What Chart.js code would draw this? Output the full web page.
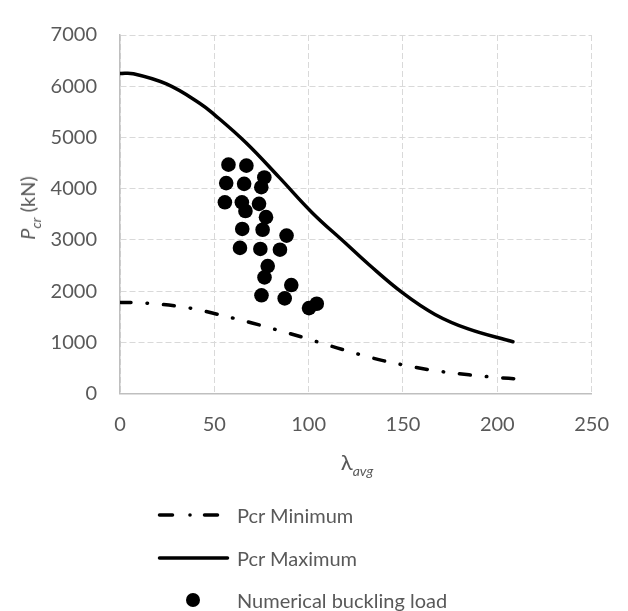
<!DOCTYPE html>
<html>
<head>
<meta charset="utf-8">
<script src="https://cdn.jsdelivr.net/npm/chart.js@4.4.1/dist/chart.umd.min.js"></script>
<style>
  html, body { margin: 0; padding: 0; background: #fff; }
  #wrap { position: relative; width: 628px; height: 611px; overflow: hidden; font-family: Lato, "Open Sans", sans-serif; color: #595959; }
  #c { position: absolute; left: 0; top: 0; }
  .ytitle { position: absolute; left: 27px; top: 208px; transform: translate(-50%, -50%) rotate(-90deg); font-size: 20px; white-space: nowrap; }
  .xtitle { position: absolute; left: 357px; top: 461px; transform: translate(-50%, -50%); font-size: 22px; white-space: nowrap; }
  .sub { font-size: 14px; font-style: italic; position: relative; top: 6px; }
  .leg { position: absolute; left: 0; height: 30px; width: 628px; }
  .leg svg { position: absolute; left: 150px; top: 0; }
  .leg span { position: absolute; left: 237px; top: 50%; transform: translateY(-50%); font-size: 20px; white-space: nowrap; }
</style>
</head>
<body>
<div id="wrap">
  <canvas id="c" width="628" height="611"></canvas>
  <div class="ytitle"><i>P</i><span class="sub">cr</span> (kN)</div>
  <div class="xtitle">λ<span class="sub">avg</span></div>
  <div id="legend"></div>
</div>
<script>
// ---- data ----
const seriesNames = ["Pcr Minimum", "Pcr Maximum", "Numerical buckling load"];

const minX = [0, 10, 20, 30, 40, 50, 60, 70, 80, 90, 100, 110, 120, 130, 140, 150, 160, 170, 180, 190, 200, 212];
const minY = [1780, 1775, 1750, 1710, 1650, 1565, 1475, 1380, 1278, 1175, 1065, 950, 840, 735, 640, 562, 492, 434, 388, 350, 315, 285];

const maxX = [0, 7, 24.6, 42.2, 50, 66.8, 84.4, 102, 119.6, 131.9, 150.2, 167, 184.6, 208.3];
const maxY = [6250, 6245, 6045, 5670, 5447, 4897, 4221, 3528, 2935, 2521, 1957, 1547, 1264, 1013];

const numX = [57.5, 67.0, 76.5, 74.9, 56.3, 65.8, 55.6, 64.6, 66.5, 73.7, 77.4, 75.6, 64.8, 88.3, 84.8, 63.6, 74.4, 78.3, 76.6, 75.0, 90.8, 87.3, 104.3, 100.2];
const numY = [4470, 4450, 4220, 4030, 4110, 4095, 3735, 3735, 3565, 3705, 3445, 3200, 3215, 3085, 2810, 2845, 2825, 2490, 2270, 1920, 2120, 1860, 1755, 1670];

const xTicks = [0, 50, 100, 150, 200, 250];
const yTicks = [0, 1000, 2000, 3000, 4000, 5000, 6000, 7000];
// --------------------------------------------

const pts = (xs, ys) => xs.map((x, i) => ({x: x, y: ys[i]}));

function build() {
  Chart.defaults.font.family = 'Lato, "Open Sans", sans-serif';
  Chart.defaults.font.size = 20;
  Chart.defaults.color = '#595959';

  const gridCommon = { color: '#d9d9d9', lineWidth: 1, drawTicks: false };

  new Chart(document.getElementById('c'), {
    type: 'scatter',
    data: {
      datasets: [
        {
          label: seriesNames[0],
          data: pts(minX, minY),
          showLine: true,
          borderColor: '#000',
          backgroundColor: '#000',
          borderWidth: 3.5,
          borderDash: [11, 16, 0.5, 16],
          borderCapStyle: 'round',
          pointRadius: 0,
          tension: 0.4,
          order: 2
        },
        {
          label: seriesNames[1],
          data: pts(maxX, maxY),
          showLine: true,
          borderColor: '#000',
          backgroundColor: '#000',
          borderWidth: 3.5,
          borderCapStyle: 'round',
          pointRadius: 0,
          tension: 0.4,
          order: 2
        },
        {
          label: seriesNames[2],
          data: pts(numX, numY),
          showLine: false,
          borderColor: '#000',
          backgroundColor: '#000',
          pointRadius: 7.3,
          pointBorderWidth: 0,
          order: 1
        }
      ]
    },
    options: {
      responsive: false,
      devicePixelRatio: 1,
      animation: false,
      events: [],
      layout: { padding: { left: 0, right: 33, top: 22.7, bottom: 177.3 } },
      plugins: { legend: { display: false }, tooltip: { enabled: false } },
      scales: {
        x: {
          type: 'linear',
          min: 0, max: 250,
          afterBuildTicks: s => { s.ticks = xTicks.map(v => ({value: v})); },
          afterFit: s => { s.height = 40; },
          ticks: { padding: 19, callback: v => String(v), font: { size: 20 } },
          grid: Object.assign({}, gridCommon),
          border: { display: true, color: '#bfbfbf', width: 1.5, dash: [6, 3] }
        },
        y: {
          type: 'linear',
          min: 0, max: 7000,
          afterBuildTicks: s => { s.ticks = yTicks.map(v => ({value: v})); },
          afterFit: s => { s.width = 120; },
          ticks: { padding: 23, callback: v => String(v), font: { size: 20 } },
          grid: Object.assign({}, gridCommon),
          border: { display: true, color: '#bfbfbf', width: 1.5, dash: [6, 3] }
        }
      }
    }
  });

  // HTML legend, one row per series
  const rows = [515, 558, 600];
  const leg = document.getElementById('legend');
  seriesNames.forEach((name, i) => {
    const d = document.createElement('div');
    d.className = 'leg';
    d.style.top = (rows[i] - 15) + 'px';
    let sym;
    if (i === 0) {
      sym = '<svg width="90" height="30"><line x1="9.5" y1="15" x2="22.5" y2="15" stroke="#000" stroke-width="3.5" stroke-linecap="round"/><circle cx="40" cy="15" r="1.8" fill="#000"/><line x1="54.5" y1="15" x2="67.5" y2="15" stroke="#000" stroke-width="3.5" stroke-linecap="round"/></svg>';
    } else if (i === 1) {
      sym = '<svg width="90" height="30"><line x1="9.5" y1="15" x2="77.5" y2="15" stroke="#000" stroke-width="3.5" stroke-linecap="round"/></svg>';
    } else {
      sym = '<svg width="90" height="30"><circle cx="43" cy="15" r="7" fill="#000"/></svg>';
    }
    d.innerHTML = sym + '<span>' + name + '</span>';
    leg.appendChild(d);
  });
}

if (document.fonts && document.fonts.load) {
  Promise.all([document.fonts.load('20px Lato'), document.fonts.load('italic 20px Lato')]).then(build, build);
} else {
  build();
}
</script>
</body>
</html>
